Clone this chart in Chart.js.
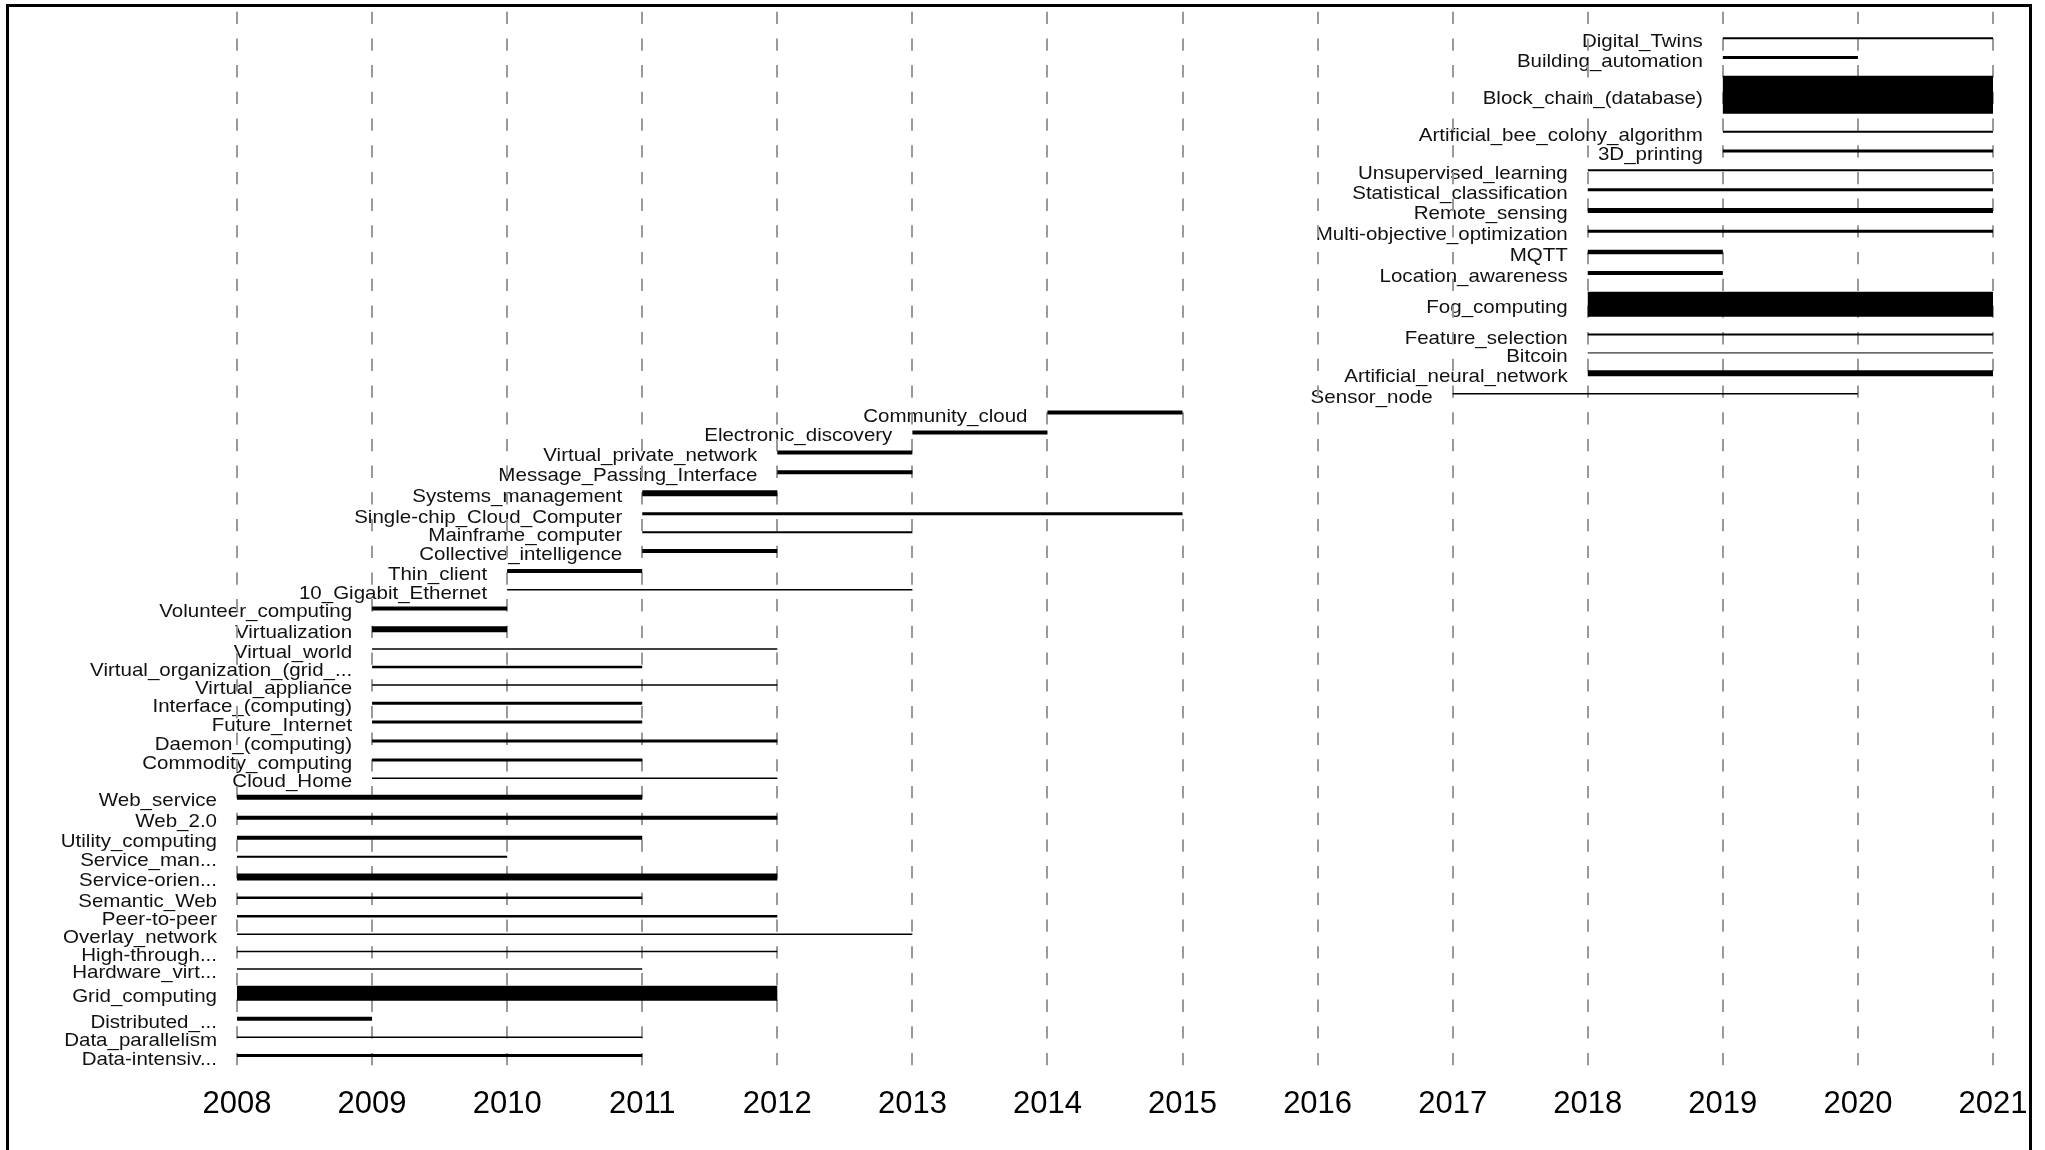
<!DOCTYPE html>
<html>
<head>
<meta charset="utf-8">
<script src="https://cdn.jsdelivr.net/npm/chart.js@4.4.1/dist/chart.umd.min.js"></script>
<style>
  html, body { margin: 0; padding: 0; background: #fff; overflow: hidden; }
  #wrap { position: relative; width: 2045px; height: 1150px; }
  #frame { position: absolute; left: 6px; top: 4px; width: 2020px; height: 1200px;
           border: 3px solid #000; border-bottom: none; pointer-events: none; }
</style>
</head>
<body>
<div id="wrap">
  <canvas id="myCanvas" width="2045" height="1150"></canvas>
  <div id="frame"></div>
</div>
<script>
// burst terms, top to bottom
var terms = ['Digital_Twins', 'Building_automation', 'Block_chain_(database)', 'Artificial_bee_colony_algorithm',
  '3D_printing', 'Unsupervised_learning', 'Statistical_classification', 'Remote_sensing',
  'Multi-objective_optimization', 'MQTT', 'Location_awareness', 'Fog_computing', 'Feature_selection',
  'Bitcoin', 'Artificial_neural_network', 'Sensor_node', 'Community_cloud', 'Electronic_discovery',
  'Virtual_private_network', 'Message_Passing_Interface', 'Systems_management', 'Single-chip_Cloud_Computer',
  'Mainframe_computer', 'Collective_intelligence', 'Thin_client', '10_Gigabit_Ethernet', 'Volunteer_computing',
  'Virtualization', 'Virtual_world', 'Virtual_organization_(grid_...', 'Virtual_appliance', 'Interface_(computing)',
  'Future_Internet', 'Daemon_(computing)', 'Commodity_computing', 'Cloud_Home', 'Web_service', 'Web_2.0',
  'Utility_computing', 'Service_man...', 'Service-orien...', 'Semantic_Web', 'Peer-to-peer', 'Overlay_network',
  'High-through...', 'Hardware_virt...', 'Grid_computing', 'Distributed_...', 'Data_parallelism', 'Data-intensiv...'];

var startYear = [2019, 2019, 2019, 2019, 2019, 2018, 2018, 2018, 2018, 2018, 2018, 2018, 2018, 2018, 2018, 2017,
  2014, 2013, 2012, 2012, 2011, 2011, 2011, 2011, 2010, 2010, 2009, 2009, 2009, 2009, 2009, 2009, 2009, 2009,
  2009, 2009, 2008, 2008, 2008, 2008, 2008, 2008, 2008, 2008, 2008, 2008, 2008, 2008, 2008, 2008];

var endYear = [2021, 2020, 2021, 2021, 2021, 2021, 2021, 2021, 2021, 2019, 2019, 2021, 2021, 2021, 2021, 2020,
  2015, 2014, 2013, 2013, 2012, 2015, 2013, 2012, 2011, 2013, 2010, 2010, 2012, 2011, 2012, 2011, 2011, 2012,
  2011, 2012, 2011, 2012, 2011, 2010, 2012, 2011, 2012, 2013, 2012, 2011, 2012, 2009, 2011, 2011];

// burst strength (drawn as line thickness)
var weight = [2, 3, 38, 2, 3, 2, 3, 5, 3, 4.5, 4, 25, 2, 1, 6, 1.5,
  4, 4, 4, 4, 6, 3, 2, 4, 4, 1.5, 4, 6, 1.5, 2.5, 1.5, 3, 3, 3, 3, 1.5,
  5, 4, 4, 2, 7, 2.5, 2.5, 1.5, 1.5, 1.5, 15, 4, 1.5, 3];

var yearTicks = [2008, 2009, 2010, 2011, 2012, 2013, 2014, 2015, 2016, 2017, 2018, 2019, 2020, 2021];

// stack the rows: each row takes a gap plus half of its own and its neighbour's thickness
// (the recent block, 2017 on, is set a little looser in the original)
var rowPos = [];
for (var i = 0; i < terms.length; i++) {
  if (i == 0) { rowPos.push(26.6); continue; }
  var gap = startYear[i] >= 2017 ? 16.9 : 16.0;
  rowPos.push(rowPos[i - 1] + gap + (weight[i - 1] + weight[i]) / 2);
}
var yMax = rowPos[rowPos.length - 1] + 14;

var datasets = terms.map(function (t, i) {
  return {
    label: t,
    data: [{x: startYear[i], y: rowPos[i]}, {x: endYear[i], y: rowPos[i]}],
    borderColor: '#000',
    borderWidth: weight[i],
    borderCapStyle: 'butt',
    pointRadius: 0,
    fill: false,
    tension: 0
  };
});

// term names drawn left of each bar (under the grid, like the original)
var termLabels = {
  id: 'termLabels',
  beforeDraw: function (chart) {
    var ctx = chart.ctx;
    var xs = chart.scales.x, ys = chart.scales.y;
    ctx.save();
    ctx.fillStyle = '#111';
    ctx.font = '19px "Liberation Sans", Arial, sans-serif';
    ctx.textAlign = 'right';
    ctx.textBaseline = 'alphabetic';
    terms.forEach(function (t, i) {
      var x = xs.getPixelForValue(startYear[i]) - 20;
      var y = ys.getPixelForValue(rowPos[i]) + 9;
      ctx.save();
      ctx.translate(x, y);
      ctx.scale(1.08, 1);
      ctx.fillText(t, 0, 0);
      ctx.restore();
    });
    ctx.restore();
  }
};

var context = document.getElementById('myCanvas').getContext('2d');

var myChart = new Chart(context, {
  type: 'line',
  data: { datasets: datasets },
  plugins: [termLabels],
  options: {
    responsive: false,
    animation: false,
    devicePixelRatio: 1,
    layout: { padding: { left: 237, right: 52, top: 11.7, bottom: 0 } },
    plugins: { legend: { display: false }, tooltip: { enabled: false } },
    scales: {
      x: {
        type: 'linear',
        min: yearTicks[0],
        max: yearTicks[yearTicks.length - 1],
        afterBuildTicks: function (s) { s.ticks = yearTicks.map(function (v) { return {value: v}; }); },
        afterFit: function (s) { s.height = 80.5; },
        ticks: {
          autoSkip: false,
          maxRotation: 0,
          padding: 16,
          color: '#000',
          font: { family: '"Liberation Sans", Arial, sans-serif', size: 31 },
          callback: function (v) { return String(v); }
        },
        grid: { color: '#9a9a9a', lineWidth: 2, drawTicks: false },
        border: { display: false, dash: [12.3, 14.4] }
      },
      y: {
        type: 'linear',
        reverse: true,
        min: 0,
        max: yMax,
        display: false
      }
    }
  }
});
</script>
</body>
</html>
